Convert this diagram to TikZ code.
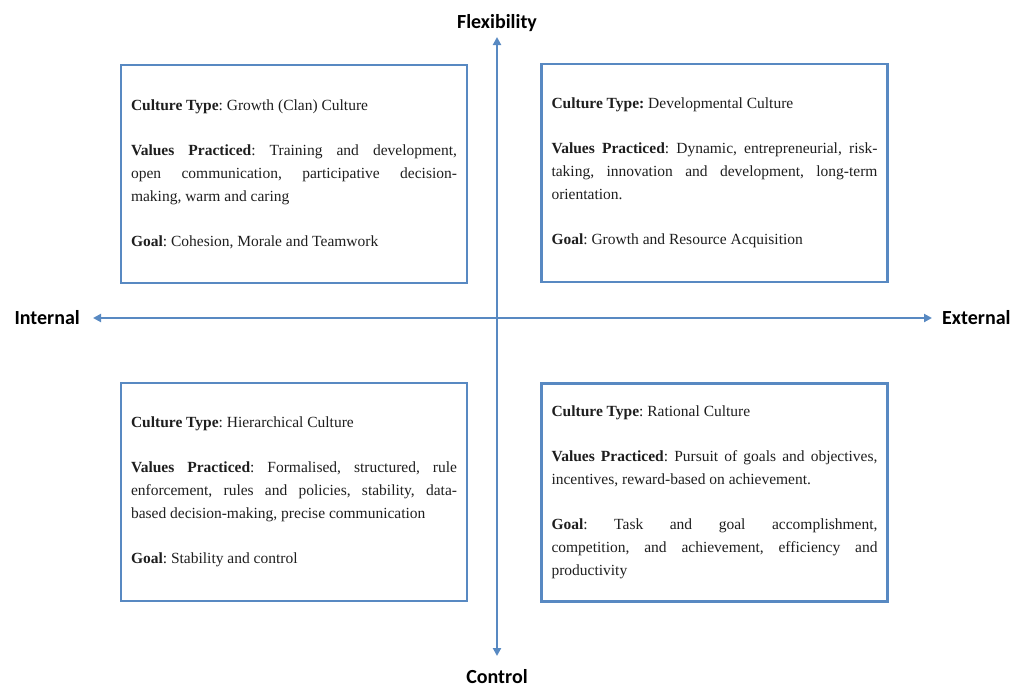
\documentclass[tikz,border=0pt]{standalone}
\usepackage{fontspec}
\setmainfont{Liberation Serif}
\newfontfamily\axisfont{Carlito}
\usetikzlibrary{positioning,arrows.meta}

\definecolor{axisblue}{RGB}{88,137,194}
\definecolor{inktext}{RGB}{30,30,30}

\newcommand{\boxfont}{\fontsize{15.5}{23}\selectfont\hyphenpenalty=10000\frenchspacing}

\begin{document}
\begin{tikzpicture}[x=1pt,y=-1pt,
    quad/.style={draw=axisblue, line width=2.5pt, text width=326pt, inner xsep=10pt,
      minimum height=218pt, align=justify, font=\boxfont, text=inktext},
    axislabel/.style={font=\axisfont\bfseries\fontsize{20}{24}\selectfont, inner sep=0pt},
    axisline/.style={draw=axisblue, line width=2.3pt, -{Triangle[length=8pt,width=8pt]}}]
  \useasboundingbox (0,0) rectangle (1017,688);

  % axes
  \coordinate (o) at (497,318);
  \coordinate (ftip) at (497,37);
  \coordinate (ctip) at (497,656);
  \coordinate (itip) at (93,318);
  \coordinate (etip) at (932,318);
  \node[axislabel, above=5pt of ftip] (flex) {Flexibility};
  \node[axislabel, below=13pt of ctip] (ctrl) {Control};
  \node[axislabel, left=13pt of itip] (intl) {Internal};
  \node[axislabel, right=10pt of etip] (extl) {External};
  \draw[axisline] (o) -- (ftip);
  \draw[axisline] (o) -- (ctip);
  \draw[axisline] (o) -- (itip);
  \draw[axisline] (o) -- (etip);

  % quadrants
  \node[quad] (clan) at (294,174) {\textbf{Culture Type}: Growth (Clan) Culture\\[22pt]
    \textbf{Values Practiced}: Training and development,\linebreak open communication, participative decision-\linebreak making, warm and caring\\[22pt]
    \textbf{Goal}: Cohesion, Morale and Teamwork};
  \node[quad] (devl) at (714.5,173) {\textbf{Culture Type:} Developmental Culture\\[22pt]
    \textbf{Values Practiced}: Dynamic, entrepreneurial, risk-\linebreak taking, innovation and development, long-term\linebreak orientation.\\[22pt]
    \textbf{Goal}: Growth and Resource Acquisition};
  \node[quad] (hier) at (294,492) {\textbf{Culture Type}: Hierarchical Culture\\[22pt]
    \textbf{Values Practiced}: Formalised, structured, rule\linebreak enforcement, rules and policies, stability, data-\linebreak based decision-making, precise communication\\[22pt]
    \textbf{Goal}: Stability and control};
  \node[quad] (ratl) at (714.5,492.5) {\textbf{Culture Type}: Rational Culture\\[22pt]
    \textbf{Values Practiced}: Pursuit of goals and objectives,\linebreak incentives, reward-based on achievement.\\[22pt]
    \textbf{Goal}: Task and goal accomplishment,\linebreak competition, and achievement, efficiency and\linebreak productivity};
\end{tikzpicture}
\end{document}
